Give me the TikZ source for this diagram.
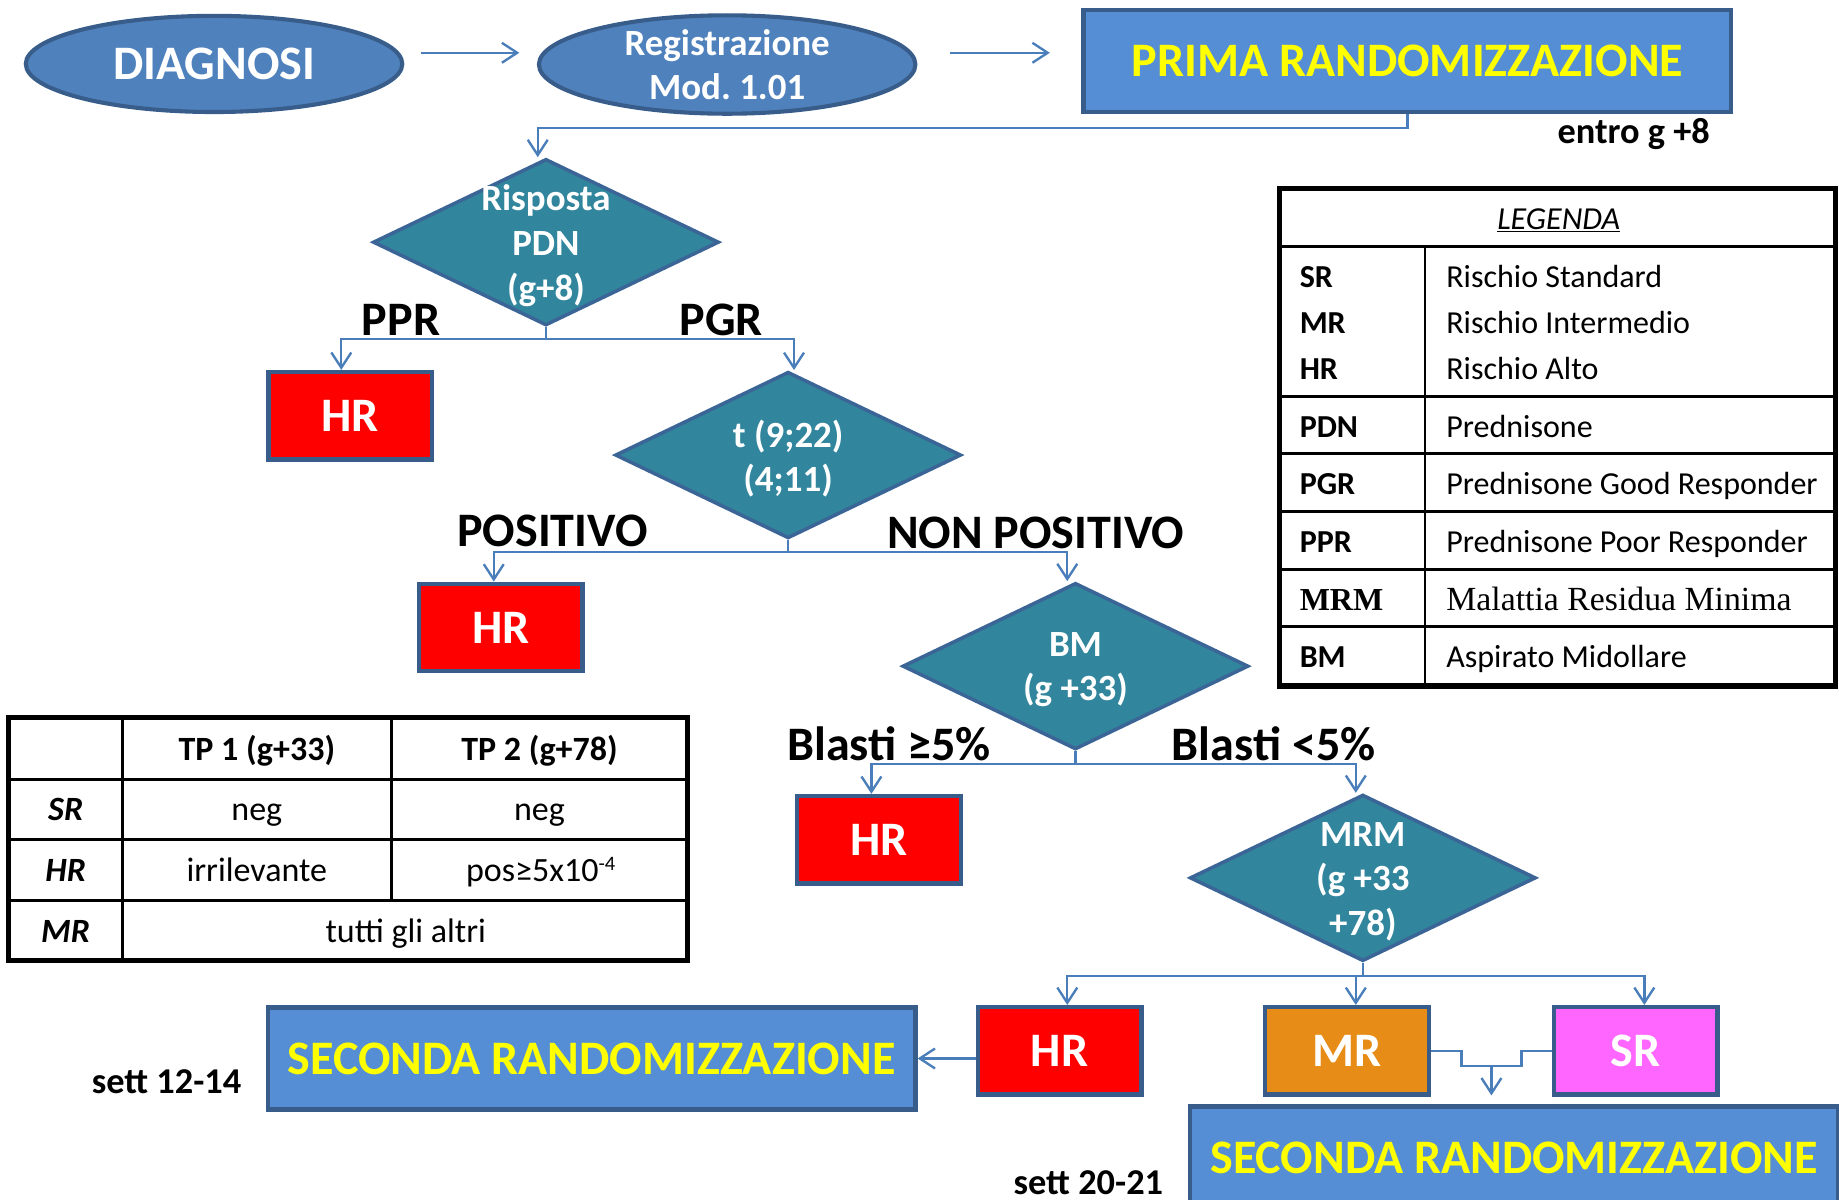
\documentclass[tikz,border=0pt]{standalone}
\usepackage{fontspec}
\setmainfont{Carlito}
\newfontfamily\serifx{Liberation Serif}
\usetikzlibrary{shapes.geometric,arrows.meta,calc}
\frenchspacing
\definecolor{ellfill}{HTML}{4F81BD}
\definecolor{bordc}{HTML}{385D8A}
\definecolor{randfill}{HTML}{558ED5}
\definecolor{diafill}{HTML}{31859C}
\definecolor{diabord}{HTML}{3A6596}
\definecolor{connc}{HTML}{4A7EBB}
\definecolor{orangec}{HTML}{E68C17}
\definecolor{magc}{HTML}{FF66FF}
\definecolor{yel}{HTML}{FFFF00}
\definecolor{redc}{HTML}{FF0000}
\begin{document}
\begin{tikzpicture}[x=1pt,y=-1pt,
  ell/.style={ellipse,fill=ellfill,draw=bordc,line width=3.5pt,minimum width=321pt,minimum height=82pt,inner sep=0pt,text=white,align=center,font=\fontsize{41}{45}\selectfont\bfseries},
  rand/.style={rectangle,fill=randfill,draw=bordc,line width=3.8pt,minimum width=552pt,minimum height=87pt,inner sep=0pt,text=yel,font=\fontsize{41}{45}\selectfont\bfseries},
  risk/.style={rectangle,draw=bordc,line width=3.8pt,minimum width=139.5pt,minimum height=74.5pt,inner sep=0pt,text=white,font=\fontsize{41}{45}\selectfont\bfseries},
  dia/.style={diamond,fill=diafill,draw=diabord,line width=3pt,minimum width=295pt,minimum height=142pt,inner sep=0pt},
  diatext/.style={text=white,align=center,font=\fontsize{31.5}{38}\selectfont\bfseries,inner sep=0pt},
  lab/.style={text=black,font=\fontsize{41}{45}\selectfont\bfseries,inner sep=0pt},
  note/.style={text=black,font=\fontsize{31}{36}\selectfont\bfseries,inner sep=0pt},
  wire/.style={draw=connc,line width=2pt},
  conn/.style={wire,-{Straight Barb[length=13pt,width=17pt,line width=2pt]}},
  tline/.style={draw=black,line width=2.5pt},
  tframe/.style={draw=black,line width=4.5pt},
  lgl/.style={anchor=west,inner sep=0pt,font=\fontsize{27.3}{30}\selectfont\bfseries,text height=18.4pt,text depth=5.4pt},
  lgr/.style={anchor=west,inner sep=0pt,font=\fontsize{27.3}{30}\selectfont,text height=18.4pt,text depth=5.4pt},
  tpc/.style={inner sep=0pt,font=\fontsize{29}{31}\selectfont,text height=19.5pt,text depth=5.8pt},
  tpb/.style={tpc,font=\fontsize{29}{31}\selectfont\bfseries},
  tpi/.style={tpc,font=\fontsize{29}{31}\selectfont\bfseries\itshape},
]
\fill[white] (0,0) rectangle (1568,1023);
\useasboundingbox (0,0) rectangle (1568,1023);

% top row
\node[ell] (diag) at (182.5,54.5) {DIAGNOSI};
\node[ell,font=\fontsize{31.5}{37}\selectfont\bfseries] (reg) at (620,55) {Registrazione\\Mod. 1.01};
\node[rand] (prima) at (1200,52) {PRIMA RANDOMIZZAZIONE};
\node[note] (entro) at (1393,114) {entro g +8};

% diamonds
\node[dia] (d1) at (465.5,206.5) {};
\node[diatext] (t1) at ($(d1.center)+(0,3)$) {Risposta\\PDN\\(g+8)};
\node[dia] (d2) at (672,388) {};
\node[diatext] (t2) at ($(d2.center)+(0,3)$) {t (9;22)\\(4;11)};
\node[dia] (d3) at (917,568) {};
\node[diatext] (t3) at ($(d3.center)+(0,3)$) {BM\\(g +33)};
\node[dia] (d4) at (1162,748.5) {};
\node[diatext] (t4) at ($(d4.center)+(0,3)$) {MRM\\(g +33\\+78)};

% risk boxes
\node[risk,fill=redc] (hr1) at (298.5,354.5) {HR};
\node[risk,fill=redc] (hr2) at (427,535) {HR};
\node[risk,fill=redc] (hr3) at (749.5,716) {HR};
\node[risk,fill=redc] (hr4) at (903.5,896) {HR};
\node[risk,fill=orangec] (mr) at (1148.5,896) {MR};
\node[risk,fill=magc] (sr) at (1394.5,896) {SR};
\node[rand] (sec1) at (504.5,902.5) {SECONDA RANDOMIZZAZIONE};
\node[rand,minimum width=553pt] (sec2) at (1291,987) {SECONDA RANDOMIZZAZIONE};
\node[note] (s1) at (142,922) {sett 12-14};
\node[note] (s2) at (928,1008) {sett 20-21};

% branch labels
\node[lab] (lppr) at (342,273) {PPR};
\node[lab] (lpgr) at (615,273) {PGR};
\node[lab] (lpos) at (471,453) {POSITIVO};
\node[lab] (lnpos) at (883,454) {NON POSITIVO};
\node[lab] (lbl1) at (758,634) {Blasti ≥5\%};
\node[lab] (lbl2) at (1086,634) {Blasti <5\%};

% connectors
\draw[conn] ($(diag.east)+(14,-9.5)$) -- ($(reg.west)+(-15,-10)$);
\draw[conn] ($(reg.east)+(28,-10)$) -- ($(prima.west)+(-27,-7)$);
\draw[conn] (prima.south) -- ++(0,12) -| ($(d1.north)+(-7,0)$);

\draw[wire] (d1.south) -- ++(0,10) coordinate (j1);
\draw[conn] (j1) -| ($(hr1.north)+(-7.5,0)$);
\draw[conn] (j1) -| ($(d2.north)+(5,0)$);
\draw[wire] (d2.south) -- ++(0,10) coordinate (j2);
\draw[conn] (j2) -| ($(hr2.north)+(-6,0)$);
\draw[conn] (j2) -| ($(d3.north)+(-7,0)$);
\draw[wire] (d3.south) -- ++(0,11) coordinate (j3);
\draw[conn] (j3) -| ($(hr3.north)+(-6.5,0)$);
\draw[conn] (j3) -| ($(d4.north)+(-6,0)$);
\draw[wire] (d4.south) -- ++(0,11) coordinate (j4);
\draw[conn] (j4) -| ($(hr4.north)+(6.5,0)$);
\draw[conn] (j4) -| ($(mr.north)+(7.5,0)$);
\draw[conn] (j4) -| ($(sr.north)+(7.5,0)$);

\draw[conn] (hr4.west |- sec1.east) -- (sec1.east);
\draw[wire] (mr.east) -- ++(26,0) -- ++(0,13) -- ++(51,0) -- ++(0,-13) -- (sr.west);
\coordinate (jm) at ($(mr.east)+(51.5,13)$);
\coordinate (jt) at ($(jm)+(0,25)$);
\draw[conn] (jm) -- (jt);

% legend table
\draw[tframe] (1091,161) rectangle (1565,585);
\draw[tline] (1091,210.5) -- (1565,210.5);
\draw[tline] (1215,210.5) -- (1215,585);
\foreach \yy in {338,387,436.5,485.5,534.5} \draw[tline] (1091,\yy) -- (1565,\yy);
\node[inner sep=0pt,font=\fontsize{27.3}{30}\selectfont\itshape] (lgt) at (1329,188) {\underline{LEGENDA}};
\node[lgl] (k1) at (1108,238.5) {SR};   \node[lgr] (v1) at (1233,238.5) {Rischio Standard};
\node[lgl] (k2) at (1108,278) {MR}; \node[lgr] (v2) at (1233,278) {Rischio Intermedio};
\node[lgl] (k3) at (1108,317) {HR}; \node[lgr] (v3) at (1233,317) {Rischio Alto};
\node[lgl] (k4) at (1108,366.5) {PDN};  \node[lgr] (v4) at (1233,366.5) {Prednisone};
\node[lgl] (k5) at (1108,415) {PGR}; \node[lgr] (v5) at (1233,415) {Prednisone Good Responder};
\node[lgl] (k6) at (1108,464.5) {PPR};  \node[lgr] (v6) at (1233,464.5) {Prednisone Poor Responder};
\node[lgl,font=\fontsize{27.3}{30}\selectfont\serifx\bfseries] (k7) at (1108,514) {MRM};
\node[lgr,font=\fontsize{28.8}{30}\selectfont\serifx] (v7) at (1233,514) {Malattia Residua Minima};
\node[lgl] (k8) at (1108,562.5) {BM};   \node[lgr] (v8) at (1233,562.5) {Aspirato Midollare};

% TP table
\draw[tframe] (7,612) rectangle (586,819);
\foreach \yy in {664.5,715.5,768} \draw[tline] (7,\yy) -- (586,\yy);
\draw[tline] (104.5,612) -- (104.5,819);
\draw[tline] (333.5,612) -- (333.5,768);
\node[tpb] (h1) at (219,641.5) {TP 1 (g+33)};
\node[tpb] (h2) at (460,641.5) {TP 2 (g+78)};
\node[tpi] (r1) at (56,693) {SR};
\node[tpc] (c11) at (219,693) {neg};
\node[tpc] (c12) at (460,693) {neg};
\node[tpi] (r2) at (56,745) {HR};
\node[tpc] (c21) at (219,745) {irrilevante};
\node[tpc] (c22) at (461,745) {pos≥5x10\raisebox{9.5pt}{\fontsize{17.5}{17.5}\selectfont -4}};
\node[tpi] (r3) at (56,797) {MR};
\node[tpc] (c31) at (346,797) {tutti gli altri};
\end{tikzpicture}
\end{document}
